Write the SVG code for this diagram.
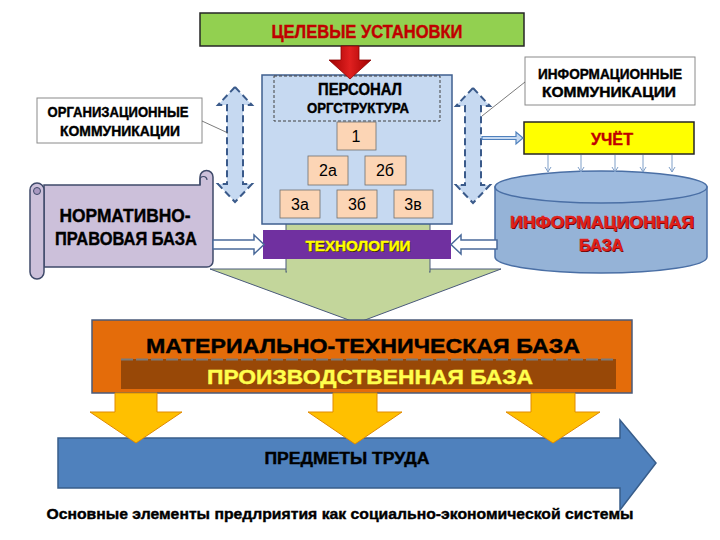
<svg xmlns="http://www.w3.org/2000/svg" width="720" height="540" viewBox="0 0 720 540">
<defs>
<style>
.t{font-family:"Liberation Sans",Arial,sans-serif;font-weight:bold;text-anchor:middle;stroke-width:0.4}
.n{font-family:"Liberation Sans",Arial,sans-serif;text-anchor:middle;font-size:16px;fill:#000}
.box{fill:#fcd5b5;stroke:#6f6f6f;stroke-width:0.8}
.dash{fill:#c6d9f1;stroke:#3a5a8a;stroke-width:2;stroke-dasharray:7,4}
.hollow{fill:#fff;stroke:#4a6a9a;stroke-width:1.5}
.thin{stroke:#595959;stroke-width:0.8;fill:none}
.yel{fill:#ffc000;stroke:#e08a00;stroke-width:1}
.k{fill:#000;stroke:#000}
</style>
<linearGradient id="red" x1="0" y1="0" x2="1" y2="0">
<stop offset="0" stop-color="#a00000"/><stop offset="0.5" stop-color="#e02020"/><stop offset="1" stop-color="#a00000"/>
</linearGradient>
<marker id="ah" markerWidth="8" markerHeight="8" refX="6" refY="4" orient="auto" markerUnits="userSpaceOnUse">
<path d="M1,1 L6,4 L1,7" fill="none" stroke="#7f9fc8" stroke-width="1"/>
</marker>
</defs>
<rect width="720" height="540" fill="#fff"/>

<g id="goals">
<rect x="200" y="13" width="324" height="33" fill="#92d050" stroke="#262626" stroke-width="1.5"/>
<text class="t" x="367" y="38" font-size="18" fill="#c00000" stroke="#c00000" textLength="191" lengthAdjust="spacingAndGlyphs">ЦЕЛЕВЫЕ УСТАНОВКИ</text>
</g>

<g id="big-green-arrow">
<polygon points="210,269 501,269 357,323" fill="#c3d69b" stroke="#4a5a7a" stroke-width="1"/>
<rect x="286" y="216" width="144" height="56" fill="#c3d69b" stroke="#4a5a7a" stroke-width="1"/>
<rect x="287" y="266" width="142" height="8" fill="#c3d69b"/>
</g>

<g id="personnel">
<rect x="262" y="75" width="190" height="149" fill="#c6d9f1" stroke="#3f5f8f" stroke-width="1.5"/>
<rect x="274" y="76" width="166" height="45" fill="none" stroke="#404040" stroke-width="1" stroke-dasharray="3,2"/>
<text class="t k" x="360" y="95" font-size="16" textLength="84" lengthAdjust="spacingAndGlyphs">ПЕРСОНАЛ</text>
<text class="t k" x="358" y="113" font-size="15" textLength="102" lengthAdjust="spacingAndGlyphs">ОРГСТРУКТУРА</text>
</g>
<g id="n1"><rect class="box" x="337" y="122" width="39" height="28"/><text class="n" x="356" y="142">1</text></g>
<g id="n2a"><rect class="box" x="308" y="156" width="40" height="29"/><text class="n" x="328" y="176">2а</text></g>
<g id="n2b"><rect class="box" x="365" y="156" width="41" height="29"/><text class="n" x="385" y="176">2б</text></g>
<g id="n3a"><rect class="box" x="280" y="190" width="40" height="28"/><text class="n" x="300" y="210">3а</text></g>
<g id="n3b"><rect class="box" x="337" y="190" width="40" height="28"/><text class="n" x="357" y="210">3б</text></g>
<g id="n3v"><rect class="box" x="394" y="190" width="39" height="28"/><text class="n" x="413" y="210">3в</text></g>

<g id="red-arrow">
<polygon points="341,46 359,46 359,60 371,60 350,79 329,60 341,60" fill="url(#red)" stroke="#8b0000" stroke-width="0.8"/>
</g>

<g id="technology">
<rect x="263" y="230" width="188" height="29" fill="#7030a0"/>
<text class="t" x="358" y="251" font-size="15" fill="#3a2a00" textLength="105" lengthAdjust="spacingAndGlyphs" transform="translate(1,1)">ТЕХНОЛОГИИ</text>
<text class="t" x="358" y="251" font-size="15" fill="#ffff00" stroke="#ffff00" textLength="105" lengthAdjust="spacingAndGlyphs">ТЕХНОЛОГИИ</text>
</g>

<g id="org-comm">
<rect x="37" y="98" width="165" height="45" fill="#fff" stroke="#8a8a8a" stroke-width="1"/>
<text class="t k" x="118" y="117" font-size="14" textLength="141" lengthAdjust="spacingAndGlyphs">ОРГАНИЗАЦИОННЫЕ</text>
<text class="t k" x="120" y="136" font-size="14" textLength="120" lengthAdjust="spacingAndGlyphs">КОММУНИКАЦИИ</text>
</g>

<g id="info-comm">
<rect x="525" y="57" width="170" height="48" fill="#fff" stroke="#8a8a8a" stroke-width="1"/>
<text class="t k" x="610" y="79" font-size="14" textLength="144" lengthAdjust="spacingAndGlyphs">ИНФОРМАЦИОННЫЕ</text>
<text class="t k" x="609" y="97" font-size="14" textLength="134" lengthAdjust="spacingAndGlyphs">КОММУНИКАЦИИ</text>
</g>

<g id="accounting">
<rect x="524" y="122" width="170" height="32" fill="#ffff00" stroke="#262626" stroke-width="1.5"/>
<text class="t" x="612" y="145" font-size="17" fill="#c00000" stroke="#c00000" textLength="42" lengthAdjust="spacingAndGlyphs">УЧЁТ</text>
</g>

<g id="info-base">
<path d="M495,187 L495,257 A106,16 0 0 0 707,257 L707,187 Z" fill="#95b3d7" stroke="#4a6fa5" stroke-width="1.5"/>
<ellipse cx="601" cy="187" rx="106" ry="16" fill="#9dbade" stroke="#4a6fa5" stroke-width="1.5"/>
<text class="t" x="602" y="228" font-size="17" fill="#5a0000" textLength="184" lengthAdjust="spacingAndGlyphs" transform="translate(1,1)">ИНФОРМАЦИОННАЯ</text>
<text class="t" x="602" y="228" font-size="17" fill="#e0201c" stroke="#e0201c" textLength="184" lengthAdjust="spacingAndGlyphs">ИНФОРМАЦИОННАЯ</text>
<text class="t" x="601" y="251" font-size="17" fill="#5a0000" textLength="44" lengthAdjust="spacingAndGlyphs" transform="translate(1,1)">БАЗА</text>
<text class="t" x="601" y="251" font-size="17" fill="#e0201c" stroke="#e0201c" textLength="44" lengthAdjust="spacingAndGlyphs">БАЗА</text>
</g>

<g id="legal-base">
<path d="M44,185 L200,185 L200,177 A6.5,6.5 0 0 1 213,177 L213,261 A6,6 0 0 1 207,267 L44,267 Z" fill="#ccc0da" stroke="#3f4a6a" stroke-width="1.5"/>
<path d="M200,185 L200,180 A3.5,3.5 0 0 1 207,180" fill="none" stroke="#3f4a6a" stroke-width="1.2"/>
<path d="M37,183 A7,7 0 0 1 44,190 L44,272 A7,7 0 0 1 30,272 L30,190 A7,7 0 0 1 37,183 Z" fill="#ccc0da" stroke="#3f4a6a" stroke-width="1.5"/>
<circle cx="37" cy="191" r="3.5" fill="#a898c0" stroke="#3f4a6a" stroke-width="1"/>
<text class="t k" x="125" y="222" font-size="18" textLength="131" lengthAdjust="spacingAndGlyphs">НОРМАТИВНО-</text>
<text class="t k" x="126" y="245" font-size="18" textLength="142" lengthAdjust="spacingAndGlyphs">ПРАВОВАЯ БАЗА</text>
</g>

<g id="material-base">
<rect x="92" y="320" width="540" height="73" fill="#e46c0a" stroke="#4a5a7a" stroke-width="1.5"/>
<text class="t k" x="363" y="353" font-size="20" textLength="434" lengthAdjust="spacingAndGlyphs">МАТЕРИАЛЬНО-ТЕХНИЧЕСКАЯ БАЗА</text>
</g>
<g id="production-base">
<rect x="121" y="359" width="495" height="30" fill="#984807"/>
<line x1="121" y1="359.5" x2="616" y2="359.5" stroke="#7a7a7a" stroke-width="2" stroke-dasharray="12,3"/>
<text class="t" x="370" y="384" font-size="20" fill="#ffff4d" stroke="#ffff4d" textLength="326" lengthAdjust="spacingAndGlyphs">ПРОИЗВОДСТВЕННАЯ БАЗА</text>
</g>

<g id="labour-objects">
<polygon points="58,438 620,438 620,420 656,463 620,510 620,488 58,488" fill="#4f81bd" stroke="#385d8a" stroke-width="1.5"/>
<text class="t k" x="347" y="464" font-size="16" textLength="165" lengthAdjust="spacingAndGlyphs">ПРЕДМЕТЫ ТРУДА</text>
</g>

<g id="connectors">
<polygon class="dash" points="235,87 252,105 243,105 243,184 252,184 235,202 218,184 227,184 227,105 218,105"/>
<polygon class="dash" points="473,88 490,106 481,106 481,185 490,185 473,203 456,185 465,185 465,106 456,106"/>
<line class="thin" x1="202" y1="121" x2="228" y2="133"/>
<line class="thin" x1="525" y1="82" x2="482" y2="116"/>
<polygon points="482,136.5 516,136.5 516,132 523,138 516,144 516,139.5 482,139.5" fill="#c6d9f1" stroke="#4f81bd" stroke-width="1.2"/>
<polygon class="hollow" points="213,240 254,240 254,235 264,244.5 254,254 254,249 213,249"/>
<polygon class="hollow" points="497,240 461,240 461,235 451,244.5 461,254 461,249 497,249"/>
<g stroke="#7f9fc8" stroke-width="1" marker-end="url(#ah)">
<line x1="548" y1="155" x2="548" y2="172"/>
<line x1="581" y1="155" x2="581" y2="172"/>
<line x1="615" y1="155" x2="615" y2="172"/>
<line x1="643" y1="155" x2="643" y2="172"/>
<line x1="672" y1="155" x2="672" y2="172"/>
</g>
<polygon class="yel" points="115,393 157,393 157,412 182,412 136,443 90,412 115,412"/>
<polygon class="yel" points="333,393 377,393 377,412 402,412 355,444 308,412 333,412"/>
<polygon class="yel" points="531,393 575,393 575,412 600,412 553,443 506,412 531,412"/>
</g>

<text class="t k" x="340" y="519" font-size="15" textLength="587" lengthAdjust="spacingAndGlyphs">Основные элементы предлриятия как социально-экономической системы</text>
</svg>
